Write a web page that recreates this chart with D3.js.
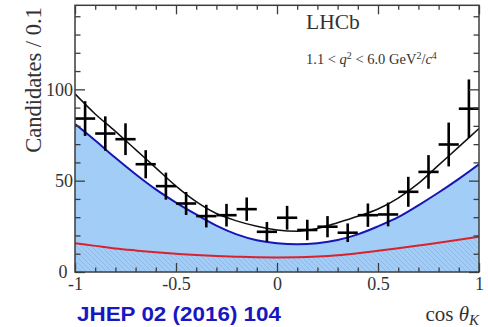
<!DOCTYPE html>
<html>
<head>
<meta charset="utf-8">
<script src="https://cdn.jsdelivr.net/npm/d3@7"></script>
<style>
  html, body { margin: 0; padding: 0; background: #ffffff; }
  svg { display: block; }
</style>
</head>
<body>
<div id="chart"></div>
<script>
// cos(theta_K) bin centres (bin width 0.1)
const binCentres = [-0.95, -0.85, -0.75, -0.65, -0.55, -0.45, -0.35, -0.25, -0.15, -0.05,
                     0.05,  0.15,  0.25,  0.35,  0.45,  0.55,  0.65,  0.75,  0.85,  0.95];
// candidates per bin and their uncertainties
const candidates = [84, 75.8, 72.7, 59, 47, 37.5, 30.6, 31.1, 34.4, 22,
                    29.7, 23, 24.8, 21.5, 31.1, 31.5, 43.9, 54.8, 69.8, 89.4];
const candErrors = [9.5, 9.4, 8.7, 7.7, 7.4, 6.3, 6.2, 6.2, 6.4, 5.4,
                    6.5, 5.6, 5.8, 5.1, 6.4, 6.5, 8.2, 9.2, 12, 16];

// fit projections sampled along cos(theta_K)
const fitGrid = [-1, -0.9, -0.8, -0.7, -0.6, -0.5, -0.4, -0.3, -0.2, -0.1,
                  0, 0.1, 0.2, 0.3, 0.4, 0.5, 0.6, 0.7, 0.8, 0.9, 1];
const totalFit = [97.5, 86.5, 77, 67, 57, 47, 38.5, 32, 28, 25,
                  23, 22.3, 23.8, 27, 30.5, 34.5, 40.5, 48.5, 58.5, 68.5, 78.5];
const signalFit = [81, 72, 62.5, 53.5, 45.2, 38, 31.5, 25.4, 20.6, 17.4,
                   15.8, 15.2, 15.8, 17.5, 20.6, 25, 30, 36.5, 43.5, 51, 59];
const backgroundFit = [15.7, 14.3, 12.9, 11.8, 10.8, 10, 9.3, 8.8, 8.4, 8.1,
                       8, 8.1, 8.5, 9.2, 10.3, 11.6, 13, 14.5, 16, 17.6, 19.3];

// axis ticks
const xMajorTicks = [-1, -0.5, 0, 0.5, 1];
const xTickLabels = ["-1", "-0.5", "0", "0.5", "1"];
const xMinorTicks = [-0.9, -0.8, -0.7, -0.6, -0.4, -0.3, -0.2, -0.1,
                      0.1, 0.2, 0.3, 0.4, 0.6, 0.7, 0.8, 0.9];
const yMajorTicks = [0, 50, 100];
const yTickLabels = ["0", "50", "100"];
const yMinorTicks = [10, 20, 30, 40, 60, 70, 80, 90, 110, 120, 130, 140];

const W = 488, H = 327;
const plot = { left: 75, right: 479, top: 5.3, bottom: 272 };

const x = d3.scaleLinear().domain([-1, 1]).range([plot.left, plot.right]);
const y = d3.scaleLinear().domain([0, 146]).range([plot.bottom, plot.top]);

const svg = d3.select("#chart").append("svg")
  .attr("width", W).attr("height", H)
  .attr("viewBox", `0 0 ${W} ${H}`);

svg.append("rect").attr("width", W).attr("height", H).attr("fill", "#ffffff");

const defs = svg.append("defs");
defs.append("clipPath").attr("id", "plotClip")
  .append("rect")
  .attr("x", plot.left).attr("y", plot.top)
  .attr("width", plot.right - plot.left).attr("height", plot.bottom - plot.top);

const hatch = defs.append("pattern")
  .attr("id", "bkgHatch")
  .attr("patternUnits", "userSpaceOnUse")
  .attr("width", 5).attr("height", 5);
hatch.append("path")
  .attr("d", "M-1,-1 L6,6 M-1,4 L1,6 M4,-1 L6,1")
  .attr("stroke", "#6f8fbf")
  .attr("stroke-opacity", 0.35)
  .attr("stroke-width", 0.9);

const g = svg.append("g").attr("clip-path", "url(#plotClip)");

const idx = d3.range(fitGrid.length);

// signal fill (blue area)
g.append("path")
  .datum(idx)
  .attr("fill", "#a2cdf6")
  .attr("d", d3.area()
    .x(i => x(fitGrid[i]))
    .y0(y(0))
    .y1(i => y(signalFit[i]))
    .curve(d3.curveMonotoneX));

// background hatch
g.append("path")
  .datum(idx)
  .attr("fill", "url(#bkgHatch)")
  .attr("d", d3.area()
    .x(i => x(fitGrid[i]))
    .y0(y(0))
    .y1(i => y(backgroundFit[i]))
    .curve(d3.curveMonotoneX));

const lineOf = arr => d3.line()
  .x(i => x(fitGrid[i]))
  .y(i => y(arr[i]))
  .curve(d3.curveMonotoneX);

g.append("path").datum(idx)
  .attr("fill", "none").attr("stroke", "#d8232e").attr("stroke-width", 2)
  .attr("d", lineOf(backgroundFit));

g.append("path").datum(idx)
  .attr("fill", "none").attr("stroke", "#1616b4").attr("stroke-width", 2)
  .attr("d", lineOf(signalFit));

g.append("path").datum(idx)
  .attr("fill", "none").attr("stroke", "#111111").attr("stroke-width", 1.5)
  .attr("d", lineOf(totalFit));

// data points with error bars
const pts = svg.append("g").attr("stroke", "#000000").attr("stroke-width", 2.6);
binCentres.forEach((c, i) => {
  pts.append("line")
    .attr("x1", x(c)).attr("x2", x(c))
    .attr("y1", y(candidates[i] - candErrors[i]))
    .attr("y2", y(candidates[i] + candErrors[i]));
  pts.append("line")
    .attr("x1", x(c - 0.05)).attr("x2", x(c + 0.05))
    .attr("y1", y(candidates[i])).attr("y2", y(candidates[i]));
});

// axes: ticks point inwards, labels outside
const axisColor = "#3c3c3c";
const serif = "'Liberation Serif', 'Times New Roman', serif";
const styleAxis = sel => {
  sel.select(".domain").remove();
  sel.selectAll(".tick line").attr("stroke", axisColor).attr("stroke-width", 1.3);
  sel.selectAll(".tick text")
    .attr("fill", "#333333")
    .style("font-family", serif)
    .style("font-size", "18px");
};

// bottom
svg.append("g").attr("transform", `translate(0,${plot.bottom})`)
  .call(d3.axisBottom(x).tickValues(xMinorTicks).tickSize(-4.5).tickFormat(""))
  .call(styleAxis);
svg.append("g").attr("transform", `translate(0,${plot.bottom})`)
  .call(d3.axisBottom(x).tickValues(xMajorTicks).tickSize(-9).tickPadding(5)
    .tickFormat((d, i) => xTickLabels[i]))
  .call(styleAxis);
// top
svg.append("g").attr("transform", `translate(0,${plot.top})`)
  .call(d3.axisTop(x).tickValues(xMinorTicks).tickSize(-4.5).tickFormat(""))
  .call(styleAxis);
svg.append("g").attr("transform", `translate(0,${plot.top})`)
  .call(d3.axisTop(x).tickValues(xMajorTicks).tickSize(-9).tickFormat(""))
  .call(styleAxis);
// left
svg.append("g").attr("transform", `translate(${plot.left},0)`)
  .call(d3.axisLeft(y).tickValues(yMinorTicks).tickSize(-5.5).tickFormat(""))
  .call(styleAxis);
const yAxisMajor = svg.append("g").attr("transform", `translate(${plot.left},0)`)
  .call(d3.axisLeft(y).tickValues(yMajorTicks).tickSize(-10).tickPadding(2)
    .tickFormat((d, i) => yTickLabels[i]))
  .call(styleAxis);
// the zero label sits a little further left, clear of the "-1" below it
yAxisMajor.selectAll(".tick text").filter(d => d === 0).attr("dx", -5.5);
// right
svg.append("g").attr("transform", `translate(${plot.right},0)`)
  .call(d3.axisRight(y).tickValues(yMinorTicks).tickSize(-5.5).tickFormat(""))
  .call(styleAxis);
svg.append("g").attr("transform", `translate(${plot.right},0)`)
  .call(d3.axisRight(y).tickValues(yMajorTicks).tickSize(-10).tickFormat(""))
  .call(styleAxis);

// frame
svg.append("rect")
  .attr("x", plot.left).attr("y", plot.top)
  .attr("width", plot.right - plot.left).attr("height", plot.bottom - plot.top)
  .attr("fill", "none").attr("stroke", axisColor).attr("stroke-width", 1.5);

// y title
svg.append("text")
  .attr("transform", "translate(41,80) rotate(-90)")
  .attr("text-anchor", "middle")
  .style("font-family", serif).style("font-size", "22.5px")
  .attr("fill", "#333333")
  .text("Candidates / 0.1");

// x title: cos θ_K
const xt = svg.append("text")
  .attr("x", 479).attr("y", 320.5)
  .attr("text-anchor", "end")
  .style("font-family", serif).style("font-size", "21px")
  .attr("fill", "#333333");
xt.append("tspan").text("cos ");
xt.append("tspan").style("font-style", "italic").text("θ");
xt.append("tspan").style("font-style", "italic").style("font-size", "15px")
  .attr("dy", 4).text("K");

// LHCb label
svg.append("text")
  .attr("x", 306).attr("y", 28.5)
  .style("font-family", serif).style("font-size", "21.5px")
  .attr("fill", "#333333")
  .text("LHCb");

// q^2 range
const qt = svg.append("text")
  .attr("x", 306).attr("y", 64)
  .style("font-family", serif).style("font-size", "14.5px")
  .attr("fill", "#333333");
qt.append("tspan").text("1.1 < ");
qt.append("tspan").style("font-style", "italic").text("q");
qt.append("tspan").style("font-size", "10px").attr("dy", -5).text("2");
qt.append("tspan").attr("dy", 5).text(" < 6.0 GeV");
qt.append("tspan").style("font-size", "10px").attr("dy", -5).text("2");
qt.append("tspan").attr("dy", 5).text("/");
qt.append("tspan").style("font-style", "italic").text("c");
qt.append("tspan").style("font-size", "10px").attr("dy", -5).text("4");

// reference
svg.append("text")
  .attr("x", 77).attr("y", 321)
  .attr("textLength", 204).attr("lengthAdjust", "spacingAndGlyphs")
  .style("font-family", "'Liberation Sans', Arial, sans-serif")
  .style("font-weight", "bold").style("font-size", "19.5px")
  .attr("fill", "#1717c4")
  .text("JHEP 02 (2016) 104");
</script>
</body>
</html>
